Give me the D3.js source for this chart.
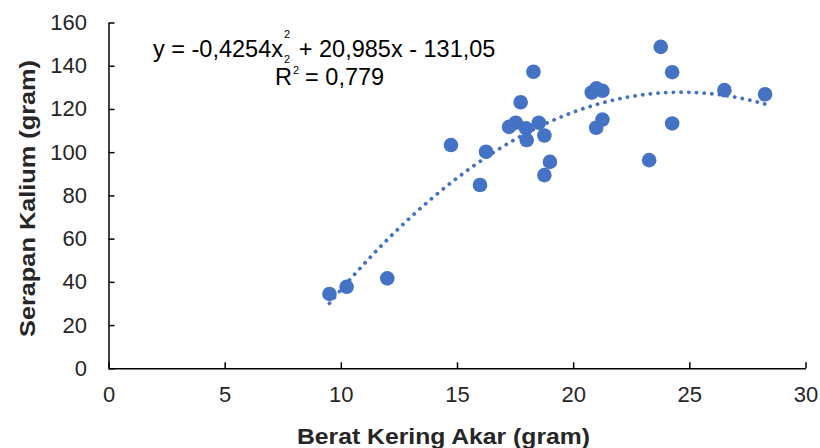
<!DOCTYPE html>
<html>
<head>
<meta charset="utf-8">
<script src="https://cdn.jsdelivr.net/npm/d3@7"></script>
<style>
  body { margin: 0; background: #fff; }
  text { font-family: "Liberation Sans", Arial, sans-serif; }
</style>
</head>
<body>
<div id="chart"></div>
<script>
// data
const beratKering = [9.51, 10.25, 12.0, 14.74, 15.99, 16.25, 17.24, 17.53, 17.74, 17.97, 18.0, 18.29, 18.52, 18.76, 18.76, 19.0,
  20.8, 21.0, 21.26, 20.99, 21.26, 23.27, 23.77, 24.26, 24.26, 26.51, 28.26]
const serapanKalium = [34.4, 37.7, 41.6, 103.3, 84.8, 100.2, 111.7, 113.6, 123.1, 111.0, 105.6, 137.2, 113.6, 107.7, 89.4, 95.5,
  127.6, 129.5, 128.4, 111.3, 115.1, 96.3, 148.7, 137.0, 113.3, 128.7, 126.8]
const trendCoef = [-0.4254, 20.985, -131.05]   // a, b, c  (y = a x^2 + b x + c)
const xTicks = [0, 5, 10, 15, 20, 25, 30]
const yTicks = [0, 20, 40, 60, 80, 100, 120, 140, 160]

const points = beratKering.map((x, i) => ({ x: x, y: serapanKalium[i] }))

let dimensions = {
  width: 820,
  height: 448,
  margin: { top: 22.5, right: 14.5, bottom: 79.7, left: 108.5 },
}
dimensions.innerWidth = dimensions.width - dimensions.margin.left - dimensions.margin.right
dimensions.innerHeight = dimensions.height - dimensions.margin.top - dimensions.margin.bottom

const outer = d3.select("#chart").append("svg")
  .attr("width", dimensions.width)
  .attr("height", dimensions.height)

const inner = outer.append("g")
  .attr("transform", `translate(${dimensions.margin.left},${dimensions.margin.top})`)

const xScale = d3.scaleLinear().domain([0, 30]).range([0, dimensions.innerWidth])
const yScale = d3.scaleLinear().domain([0, 160]).range([dimensions.innerHeight, 0])

// axes
const xAxis = d3.axisBottom(xScale).tickValues(xTicks).tickSizeInner(-6).tickSizeOuter(0).tickPadding(18)
const yAxis = d3.axisLeft(yScale).tickValues(yTicks).tickSizeInner(-6).tickSizeOuter(0).tickPadding(21.5)

const xAxisGroup = inner.append("g")
  .attr("transform", `translate(0,${dimensions.innerHeight})`)
  .call(xAxis)
const yAxisGroup = inner.append("g").call(yAxis)

;[xAxisGroup, yAxisGroup].forEach(g => {
  g.select(".domain").attr("stroke", "#000").attr("stroke-width", 1.5)
  g.selectAll(".tick line").attr("stroke", "#000").attr("stroke-width", 1.5)
  g.selectAll(".tick text")
    .attr("fill", "#262626")
    .style("font-size", "22px")
    .style("font-family", '"Liberation Sans", Arial, sans-serif')
})

// trendline (polynomial order 2)
const ta = trendCoef[0], tb = trendCoef[1], tc = trendCoef[2]
const xMin = d3.min(beratKering), xMax = d3.max(beratKering)
const trendData = d3.range(0, 101).map(i => {
  const x = xMin + (xMax - xMin) * i / 100
  return { x: x, y: ta * x * x + tb * x + tc }
})
const trendLine = d3.line().x(d => xScale(d.x)).y(d => yScale(d.y)).curve(d3.curveMonotoneX)

inner.append("path")
  .attr("d", trendLine(trendData))
  .attr("fill", "none")
  .attr("stroke", "#4472C4")
  .attr("stroke-width", 3.8)
  .attr("stroke-linecap", "round")
  .attr("stroke-dasharray", "0.1 7.6")

// points
inner.selectAll("circle.pt")
  .data(points)
  .join("circle")
  .attr("class", "pt")
  .attr("cx", d => xScale(d.x))
  .attr("cy", d => yScale(d.y))
  .attr("r", 7.3)
  .attr("fill", "#4472C4")

// axis titles
outer.append("text")
  .attr("x", 443.5)
  .attr("y", 444)
  .attr("text-anchor", "middle")
  .attr("fill", "#262626")
  .attr("textLength", 293)
  .attr("lengthAdjust", "spacingAndGlyphs")
  .style("font-size", "22px")
  .style("font-weight", "bold")
  .text("Berat Kering Akar (gram)")

outer.append("text")
  .attr("transform", "translate(35,198.5) rotate(-90)")
  .attr("text-anchor", "middle")
  .attr("fill", "#262626")
  .attr("textLength", 277)
  .attr("lengthAdjust", "spacingAndGlyphs")
  .style("font-size", "22px")
  .style("font-weight", "bold")
  .text("Serapan Kalium (gram)")

// equation label
const eq = outer.append("text")
  .attr("x", 153)
  .attr("y", 57)
  .attr("fill", "#000")
  .style("font-size", "23.5px")
eq.append("tspan").text("y = -0,4254x")
eq.append("tspan").attr("dx", 1).attr("dy", -19).style("font-size", "11px").text("2")
eq.append("tspan").attr("dx", -6).attr("dy", 25).style("font-size", "11px").text("2")
eq.append("tspan").attr("dx", 2).attr("dy", -6).text(" + 20,985x - 131,05")

const r2 = outer.append("text")
  .attr("x", 275)
  .attr("y", 85)
  .attr("fill", "#000")
  .style("font-size", "23.5px")
r2.append("tspan").text("R")
r2.append("tspan").attr("dx", 1).attr("dy", -11).style("font-size", "11px").text("2")
r2.append("tspan").attr("dx", 6).attr("dy", 11).text("= 0,779")
</script>
</body>
</html>
